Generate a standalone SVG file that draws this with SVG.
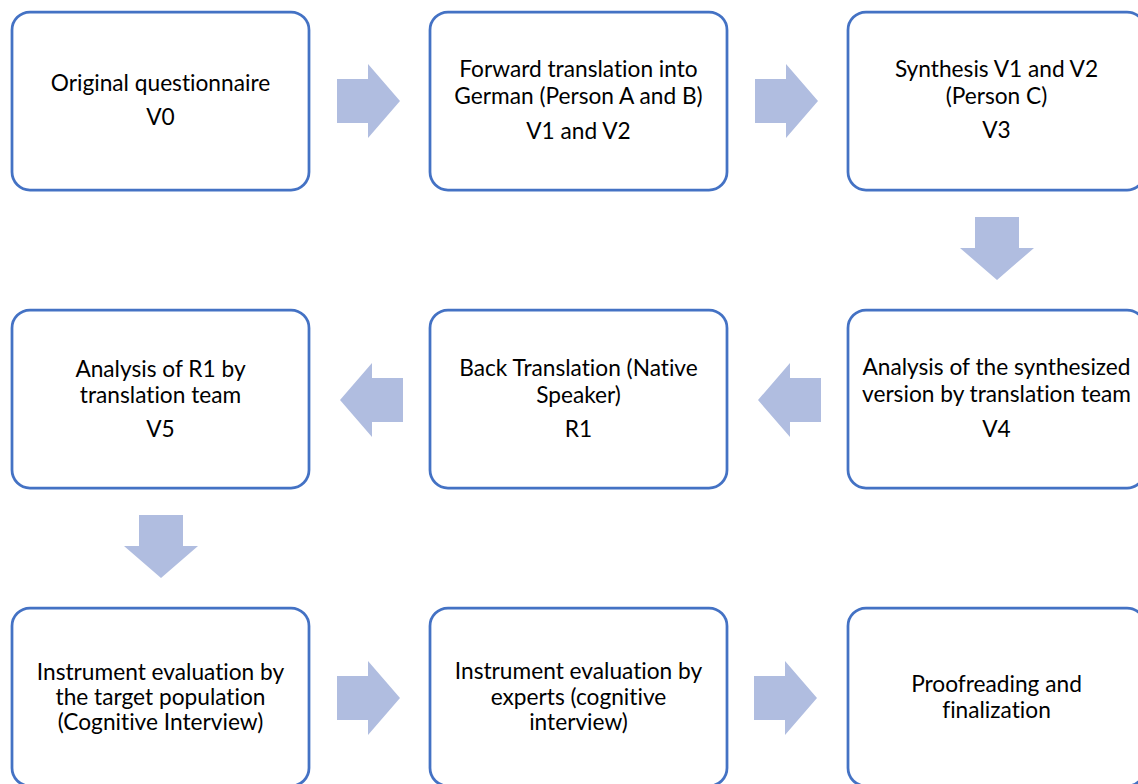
<svg xmlns="http://www.w3.org/2000/svg" width="1138" height="784" viewBox="0 0 1138 784">
<style>
.box{fill:#fff;stroke:#4472C4;stroke-width:2.75}
.t{font-family:"Gill Sans MT","Gill Sans",Lato,"Open Sans",sans-serif;font-size:22.7px;fill:#000;text-anchor:middle;font-variant-ligatures:none;font-feature-settings:"liga" 0,"dlig" 0}
.arr{fill:#B0BDE0}
</style>
<defs>
<path id="arrow" d="M0,-22 H31 V-37 L63,0 L31,37 V22 H0 Z"/>
</defs>
<rect width="1138" height="784" fill="#fff"/>
<g id="connectors" class="arr">
<use href="#arrow" transform="translate(337,101)"/>
<use href="#arrow" transform="translate(755,101)"/>
<use href="#arrow" transform="translate(997,217) rotate(90)"/>
<use href="#arrow" transform="translate(821,400) rotate(180)"/>
<use href="#arrow" transform="translate(403,400) rotate(180)"/>
<use href="#arrow" transform="translate(161,515) rotate(90)"/>
<use href="#arrow" transform="translate(337,698)"/>
<use href="#arrow" transform="translate(754,698)"/>
</g>
<g id="n1"><rect class="box" x="12" y="12" width="297" height="178" rx="18"/>
<text class="t" x="160.5" y="91">Original questionnaire</text>
<text class="t" x="160.5" y="125">V0</text></g>
<g id="n2"><rect class="box" x="430" y="12" width="297" height="178" rx="18"/>
<text class="t" x="578.5" y="77">Forward translation into</text>
<text class="t" x="578.5" y="104">German (Person A and B)</text>
<text class="t" x="578.5" y="139">V1 and V2</text></g>
<g id="n3"><rect class="box" x="848" y="12" width="297" height="178" rx="18"/>
<text class="t" x="996.5" y="77">Synthesis V1 and V2</text>
<text class="t" x="996.5" y="104">(Person C)</text>
<text class="t" x="996.5" y="138">V3</text></g>
<g id="n4"><rect class="box" x="848" y="310" width="297" height="178" rx="18"/>
<text class="t" x="996.5" y="375">Analysis of the synthesized</text>
<text class="t" x="996.5" y="402">version by translation team</text>
<text class="t" x="996.5" y="437">V4</text></g>
<g id="n5"><rect class="box" x="430" y="310" width="297" height="178" rx="18"/>
<text class="t" x="578.5" y="376">Back Translation (Native</text>
<text class="t" x="578.5" y="403">Speaker)</text>
<text class="t" x="578.5" y="437">R1</text></g>
<g id="n6"><rect class="box" x="12" y="310" width="297" height="178" rx="18"/>
<text class="t" x="160.5" y="377">Analysis of R1 by</text>
<text class="t" x="160.5" y="403">translation team</text>
<text class="t" x="160.5" y="437">V5</text></g>
<g id="n7"><rect class="box" x="12" y="608" width="297" height="178" rx="18"/>
<text class="t" x="160.5" y="680">Instrument evaluation by</text>
<text class="t" x="160.5" y="705">the target population</text>
<text class="t" x="160.5" y="730">(Cognitive Interview)</text></g>
<g id="n8"><rect class="box" x="430" y="608" width="297" height="178" rx="18"/>
<text class="t" x="578.5" y="679">Instrument evaluation by</text>
<text class="t" x="578.5" y="705">experts (cognitive</text>
<text class="t" x="578.5" y="730">interview)</text></g>
<g id="n9"><rect class="box" x="848" y="608" width="297" height="178" rx="18"/>
<text class="t" x="996.5" y="692">Proofreading and</text>
<text class="t" x="996.5" y="718">finalization</text></g>
</svg>
